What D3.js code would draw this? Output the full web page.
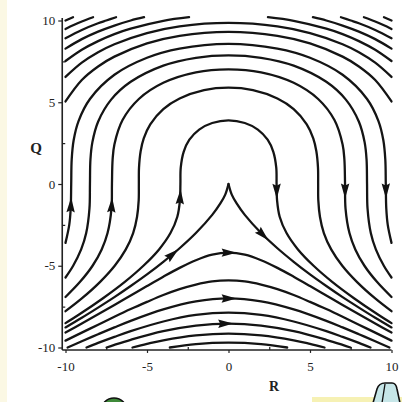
<!DOCTYPE html>
<html>
<head>
<meta charset="utf-8">
<script src="https://cdn.jsdelivr.net/npm/d3@7"></script>
<style>
  html, body { margin: 0; padding: 0; background: #fff; }
  svg { display: block; }
</style>
</head>
<body>
<svg id="chart" width="402" height="402"></svg>
<script>
// Axis ticks
const tickValues = [-10, -5, 0, 5, 10];
const tickLabels = ["-10", "-5", "0", "5", "10"];
const minorTicks = [-7.5, -2.5, 2.5, 7.5];

// Streamlines in the (R, Q) plane, each listed in the direction of flow.
// Closed-top arches: rise on the left, pass over, fall on the right.
const archLines = [
  [[-10,-8.51],[-9.19,-8],[-7.72,-7],[-6.38,-6],[-5.22,-5],[-4.26,-4],[-3.56,-3],[-3.14,-2],[-2.98,-1],[-2.95,0],[-2.93,1],[-2.75,1.97],[-2.4,2.71],[-1.8,3.33],[-1,3.73],[0,3.89],[1,3.73],[1.8,3.33],[2.4,2.71],[2.75,1.97],[2.93,1],[2.95,0],[2.98,-1],[3.14,-2],[3.56,-3],[4.26,-4],[5.22,-5],[6.38,-6],[7.72,-7],[9.19,-8],[10,-8.51]],
  [[-10,-7.78],[-9,-7],[-7.89,-6],[-6.98,-5],[-6.3,-4],[-5.85,-3],[-5.61,-2],[-5.51,-1],[-5.5,0],[-5.49,1],[-5.39,2],[-5.2,2.79],[-4.8,3.65],[-4,4.58],[-3,5.23],[-1.5,5.74],[0,5.89],[1.5,5.74],[3,5.23],[4,4.58],[4.8,3.65],[5.2,2.79],[5.39,2],[5.49,1],[5.5,0],[5.51,-1],[5.61,-2],[5.85,-3],[6.3,-4],[6.98,-5],[7.89,-6],[9,-7],[10,-7.78]],
  [[-10,-6.91],[-9.12,-6],[-8.34,-5],[-7.78,-4],[-7.42,-3],[-7.18,-1.5],[-7.15,0],[-7.11,1.5],[-7,2.42],[-6.5,3.91],[-5.5,5.2],[-4,6.19],[-2,6.83],[0,7.01],[2,6.83],[4,6.19],[5.5,5.2],[6.5,3.91],[7,2.42],[7.11,1.5],[7.15,0],[7.18,-1.5],[7.42,-3],[7.78,-4],[8.34,-5],[9.12,-6],[10,-6.91]],
  [[-10,-5.72],[-9.53,-5],[-9.04,-4],[-8.73,-3],[-8.53,-1.5],[-8.5,0],[-8.47,1.5],[-8.35,2.56],[-8,3.81],[-7.2,5.16],[-6,6.25],[-4,7.24],[-2,7.72],[0,7.87],[2,7.72],[4,7.24],[6,6.25],[7.2,5.16],[8,3.81],[8.35,2.56],[8.47,1.5],[8.5,0],[8.53,-1.5],[8.73,-3],[9.04,-4],[9.53,-5],[10,-5.72]],
  [[-10,-3.6],[-9.77,-2.5],[-9.68,-1.5],[-9.65,0],[-9.62,1.5],[-9.5,2.68],[-9.2,3.85],[-8.5,5.2],[-7,6.68],[-5,7.72],[-3,8.28],[0,8.57],[3,8.28],[5,7.72],[7,6.68],[8.5,5.2],[9.2,3.85],[9.5,2.68],[9.62,1.5],[9.65,0],[9.68,-1.5],[9.77,-2.5],[10,-3.6]]
];

// The separatrix with its cusp at the origin.
const cuspLeft = [[-10,-8.77],[-9,-8.18],[-8,-7.56],[-7,-6.92],[-6,-6.24],[-5,-5.53],[-4,-4.76],[-3,-3.93],[-2,-3.0],[-1,-1.89],[-0.5,-1.19],[-0.2,-0.65],[0,0]];
const cuspRight = [[0,0],[0.2,-0.65],[0.5,-1.19],[1,-1.89],[2,-3.0],[3,-3.93],[4,-4.76],[5,-5.53],[6,-6.24],[7,-6.92],[8,-7.56],[9,-8.18],[10,-8.77]];

// Streamlines below the separatrix, moving left to right.
const lowerLines = [
  [[-10,-9.08],[-9,-8.53],[-8,-7.97],[-7,-7.4],[-6,-6.82],[-5,-6.24],[-4,-5.67],[-3,-5.13],[-2,-4.66],[-1,-4.32],[0,-4.2],[1,-4.32],[2,-4.66],[3,-5.13],[4,-5.67],[5,-6.24],[6,-6.82],[7,-7.4],[8,-7.97],[9,-8.53],[10,-9.08]],
  [[-10,-9.58],[-9,-9.09],[-8,-8.61],[-7,-8.12],[-6,-7.65],[-5,-7.21],[-4,-6.79],[-3,-6.43],[-2,-6.15],[-1,-5.96],[0,-5.9],[1,-5.96],[2,-6.15],[3,-6.43],[4,-6.79],[5,-7.21],[6,-7.65],[7,-8.12],[8,-8.61],[9,-9.09],[10,-9.58]],
  [[-9.87,-10],[-9,-9.62],[-8,-9.19],[-7,-8.77],[-6,-8.37],[-4,-7.67],[-2,-7.18],[0,-7],[2,-7.18],[4,-7.67],[6,-8.37],[7,-8.77],[8,-9.19],[9,-9.62],[9.87,-10]],
  [[-8.71,-10],[-8,-9.72],[-7,-9.35],[-6,-9],[-4,-8.41],[-2,-8.01],[0,-7.87],[2,-8.01],[4,-8.41],[6,-9],[7,-9.35],[8,-9.72],[8.71,-10]],
  [[-7.48,-10],[-7,-9.84],[-6,-9.53],[-4,-9],[-2,-8.66],[0,-8.54],[2,-8.66],[4,-9],[6,-9.53],[7,-9.84],[7.48,-10]],
  [[-5.89,-10],[-5,-9.78],[-4,-9.56],[-2,-9.26],[0,-9.15],[2,-9.26],[4,-9.56],[5,-9.78],[5.89,-10]],
  [[-3.6,-10],[-2,-9.79],[0,-9.7],[2,-9.79],[3.6,-10]]
];

// Streamlines above the arches, running off the top of the frame at the corners.
const upperLines = [
  [[-10,5.05],[-9,6.36],[-8,7.19],[-7,7.79],[-5,8.6],[-3,9.06],[0,9.3],[3,9.06],[5,8.6],[7,7.79],[8,7.19],[9,6.36],[10,5.05]],
  [[-10,6.55],[-9,7.42],[-8,8.06],[-7,8.55],[-5,9.23],[-3,9.64],[0,9.85],[3,9.64],[5,9.23],[7,8.55],[8,8.06],[9,7.42],[10,6.55]],
  [[-10,7.52],[-9,8.21],[-8,8.74],[-7,9.17],[-6,9.5],[-4,9.98],[-2.42,10.2]],
  [[-10,8.28],[-9,8.86],[-8,9.32],[-7,9.69],[-6,10],[-5.18,10.2]],
  [[-10,8.91],[-9,9.42],[-8,9.83],[-7.5,10],[-6.9,10.2]],
  [[-10,9.48],[-9.5,9.72],[-9,9.94],[-8.31,10.2]],
  [[-10,10],[-9.54,10.2]],
  [[2.42,10.2],[4,9.98],[6,9.5],[7,9.17],[8,8.74],[9,8.21],[10,7.52]],
  [[5.18,10.2],[6,10],[7,9.69],[8,9.32],[9,8.86],[10,8.28]],
  [[6.9,10.2],[7.5,10],[8,9.83],[9,9.42],[10,8.91]],
  [[8.31,10.2],[9,9.94],[9.5,9.72],[10,9.48]],
  [[9.54,10.2],[10,10]]
];

// Direction arrows: which streamline, and roughly where on it (R, Q).
const arrowMarks = [
  { set: "arch", i: 4, at: [-9.62, -1.3] },
  { set: "arch", i: 2, at: [-7.16, -1.3] },
  { set: "arch", i: 0, at: [-2.96, -0.8] },
  { set: "arch", i: 0, at: [2.95, -0.4] },
  { set: "arch", i: 2, at: [7.15, -0.4] },
  { set: "arch", i: 4, at: [9.65, -0.4] },
  { set: "cuspL", i: 0, at: [-3.45, -4.3] },
  { set: "cuspR", i: 0, at: [2.1, -3.1] },
  { set: "lower", i: 0, at: [0, -4.2] },
  { set: "lower", i: 2, at: [0, -7] },
  { set: "lower", i: 4, at: [-0.2, -8.54] }
];

const svg = d3.select("#chart");
const W = 402, H = 402;

// paper and stray bits of the scanned page
svg.append("rect").attr("width", W).attr("height", H).attr("fill", "#ffffff");
svg.append("rect").attr("x", 0).attr("y", 0).attr("width", 7).attr("height", H).attr("fill", "#fbf8e4");
svg.append("rect").attr("x", 312).attr("y", 397).attr("width", 90).attr("height", 5).attr("fill", "#f6f1b4");
svg.append("circle").attr("cx", 114).attr("cy", 411).attr("r", 13)
  .attr("fill", "#3f8a3a").attr("stroke", "#111").attr("stroke-width", 1.6);
svg.append("path")
  .attr("d", "M373,403 L377,389 Q379,383 385,383 L392,383 Q396,383 397,389 L400,403 Z")
  .attr("fill", "#c6e6e8").attr("stroke", "#111").attr("stroke-width", 1.6);
svg.append("path").attr("d", "M385,384 L382,403").attr("stroke", "#111").attr("stroke-width", 1.3).attr("fill", "none");

const x = d3.scaleLinear().domain([-10, 10]).range([65.5, 391.5]);
const y = d3.scaleLinear().domain([-10, 10]).range([347.5, 20.5]);

const axisX0 = x(-10.2);   // left spine
const axisY0 = y(-10.15);  // bottom spine

const fontFamily = "'Liberation Serif', 'DejaVu Serif', serif";

// Left axis
const gy = svg.append("g").attr("transform", `translate(${axisX0},0)`)
  .call(d3.axisLeft(y).tickValues(tickValues).tickFormat((d, i) => tickLabels[i]).tickSize(4).tickPadding(3));
gy.select(".domain").remove();
svg.append("g").attr("transform", `translate(${axisX0},0)`)
  .call(d3.axisRight(y).tickValues(minorTicks).tickFormat("").tickSize(3))
  .select(".domain").remove();
svg.append("line").attr("x1", axisX0).attr("x2", axisX0).attr("y1", y(10.15)).attr("y2", axisY0)
  .attr("stroke", "#222").attr("stroke-width", 1.6);

// Bottom axis
const gx = svg.append("g").attr("transform", `translate(0,${axisY0})`)
  .call(d3.axisBottom(x).tickValues(tickValues).tickFormat((d, i) => tickLabels[i]).tickSize(3).tickPadding(9));
gx.select(".domain").remove();
svg.append("g").attr("transform", `translate(0,${axisY0})`)
  .call(d3.axisTop(x).tickValues(minorTicks).tickFormat("").tickSize(3))
  .select(".domain").remove();
svg.append("line").attr("x1", axisX0).attr("x2", x(10)).attr("y1", axisY0).attr("y2", axisY0)
  .attr("stroke", "#222").attr("stroke-width", 1.6);

svg.selectAll(".tick line").attr("stroke", "#222").attr("stroke-width", 1.2);
svg.selectAll(".tick text").attr("font-family", fontFamily).attr("font-size", 13).attr("fill", "#222");

// Axis titles
svg.append("text").attr("x", 36).attr("y", 153).attr("text-anchor", "middle")
  .attr("font-family", fontFamily).attr("font-weight", "bold").attr("font-size", 15).attr("fill", "#222").text("Q");
svg.append("text").attr("x", 274).attr("y", 391).attr("text-anchor", "middle")
  .attr("font-family", fontFamily).attr("font-weight", "bold").attr("font-size", 14).attr("fill", "#222").text("R");

// Streamlines
const line = d3.line().x(d => x(d[0])).y(d => y(d[1])).curve(d3.curveCatmullRom.alpha(0.5));
const gLines = svg.append("g").attr("fill", "none").attr("stroke", "#141414")
  .attr("stroke-width", 2.3).attr("stroke-linecap", "round").attr("stroke-linejoin", "round");

function drawSet(data, cls) {
  return gLines.selectAll("path." + cls).data(data).join("path").attr("class", cls).attr("d", line);
}
const paths = {
  arch: drawSet(archLines, "arch").nodes(),
  lower: drawSet(lowerLines, "lower").nodes(),
  upper: drawSet(upperLines, "upper").nodes(),
  cuspL: drawSet([cuspLeft], "cuspL").nodes(),
  cuspR: drawSet([cuspRight], "cuspR").nodes()
};

// Arrowheads placed on the nearest point of their streamline, aligned with the flow
const gArrows = svg.append("g").attr("fill", "#111");
arrowMarks.forEach(m => {
  const node = paths[m.set][m.i];
  const len = node.getTotalLength();
  const tx = x(m.at[0]), ty = y(m.at[1]);
  let best = 0, bestD = Infinity;
  for (let l = 0; l <= len; l += 0.5) {
    const p = node.getPointAtLength(l);
    const dd = (p.x - tx) ** 2 + (p.y - ty) ** 2;
    if (dd < bestD) { bestD = dd; best = l; }
  }
  const p0 = node.getPointAtLength(Math.max(0, best - 2));
  const p1 = node.getPointAtLength(Math.min(len, best + 2));
  const c = node.getPointAtLength(best);
  const ang = Math.atan2(p1.y - p0.y, p1.x - p0.x) * 180 / Math.PI;
  gArrows.append("path")
    .attr("d", "M8,0 L-7,-4.2 L-5,0 L-7,4.2 Z")
    .attr("transform", `translate(${c.x},${c.y}) rotate(${ang})`);
});
</script>
</body>
</html>
